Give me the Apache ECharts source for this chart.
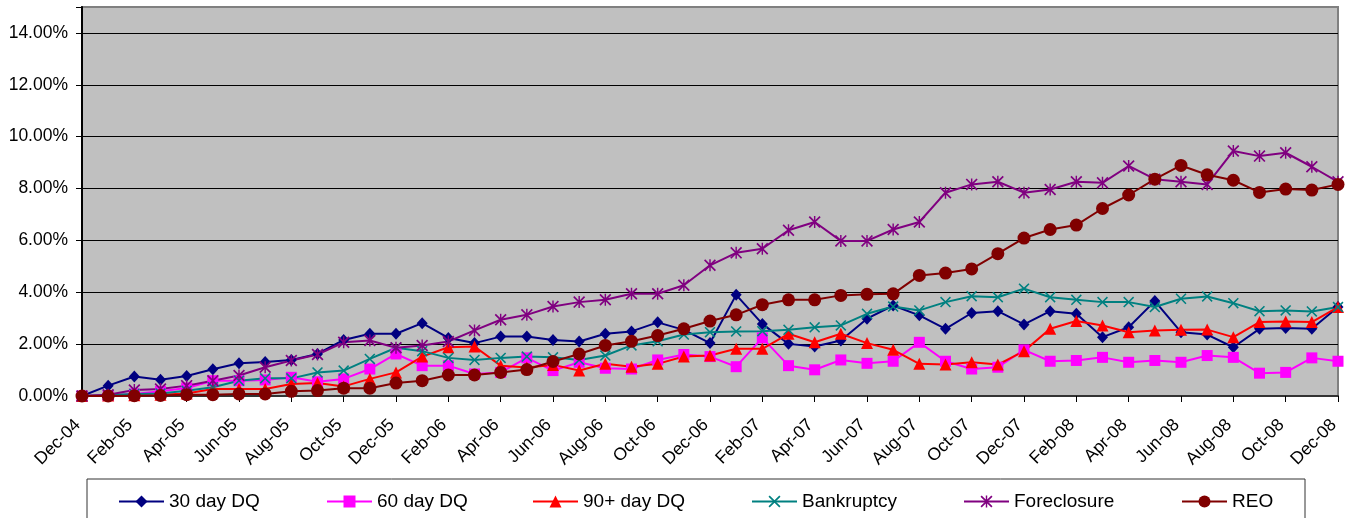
<!DOCTYPE html>
<html>
<head>
<meta charset="utf-8">
<script src="https://cdn.jsdelivr.net/npm/echarts@6/dist/echarts.min.js"></script>
<style>
  html, body { margin: 0; padding: 0; background: #fff; }
  #chart { width: 1356px; height: 518px; }
</style>
</head>
<body>
<div id="chart"></div>
<script>
var months = ['Dec-04', 'Jan-05', 'Feb-05', 'Mar-05', 'Apr-05', 'May-05', 'Jun-05', 'Jul-05', 'Aug-05', 'Sep-05', 'Oct-05', 'Nov-05',
  'Dec-05', 'Jan-06', 'Feb-06', 'Mar-06', 'Apr-06', 'May-06', 'Jun-06', 'Jul-06', 'Aug-06', 'Sep-06', 'Oct-06', 'Nov-06',
  'Dec-06', 'Jan-07', 'Feb-07', 'Mar-07', 'Apr-07', 'May-07', 'Jun-07', 'Jul-07', 'Aug-07', 'Sep-07', 'Oct-07', 'Nov-07',
  'Dec-07', 'Jan-08', 'Feb-08', 'Mar-08', 'Apr-08', 'May-08', 'Jun-08', 'Jul-08', 'Aug-08', 'Sep-08', 'Oct-08', 'Nov-08',
  'Dec-08'];

// values in percent
var dq30 = [0, 0.40, 0.75, 0.63, 0.77, 1.03, 1.26, 1.31, 1.39, 1.62, 2.16, 2.40, 2.40, 2.81, 2.24,
  2.04, 2.29, 2.29, 2.16, 2.10, 2.40, 2.49, 2.84, 2.55, 2.04, 3.90, 2.78, 2.01, 1.91, 2.14, 2.98,
  3.49, 3.11, 2.59, 3.20, 3.27, 2.76, 3.27, 3.17, 2.27, 2.65, 3.66, 2.46, 2.37, 1.88, 2.59, 2.62, 2.59, 3.43];
var dq60 = [0, 0.02, 0.08, 0.18, 0.31, 0.59, 0.59, 0.62, 0.72, 0.55, 0.66, 1.04, 1.62, 1.17, 1.17,
  0.85, 0.91, 1.47, 0.98, 1.30, 1.07, 1.04, 1.39, 1.60, 1.52, 1.13, 2.24, 1.17, 1.01, 1.39, 1.26,
  1.34, 2.07, 1.34, 1.04, 1.11, 1.78, 1.34, 1.37, 1.49, 1.30, 1.37, 1.30, 1.56, 1.49, 0.88, 0.91, 1.47, 1.34];
var dq90 = [0, 0.02, 0.03, 0.05, 0.10, 0.27, 0.27, 0.27, 0.46, 0.50, 0.37, 0.66, 0.91, 1.52, 1.88,
  1.91, 1.17, 1.10, 1.20, 0.98, 1.24, 1.13, 1.24, 1.52, 1.56, 1.82, 1.82, 2.40, 2.07, 2.40, 2.04,
  1.78, 1.24, 1.21, 1.30, 1.21, 1.73, 2.59, 2.89, 2.72, 2.46, 2.53, 2.55, 2.56, 2.27, 2.85, 2.87, 2.85, 3.43];
var bankruptcy = [0, 0.04, 0.08, 0.10, 0.20, 0.34, 0.59, 0.68, 0.68, 0.91, 0.98, 1.43, 1.86, 1.73, 1.47,
  1.39, 1.47, 1.52, 1.49, 1.39, 1.56, 1.95, 2.11, 2.37, 2.46, 2.49, 2.50, 2.55, 2.65, 2.72, 3.17,
  3.45, 3.30, 3.62, 3.85, 3.81, 4.14, 3.81, 3.71, 3.62, 3.62, 3.43, 3.75, 3.84, 3.58, 3.27, 3.30, 3.26, 3.43];
var foreclosure = [0, 0.05, 0.23, 0.27, 0.40, 0.59, 0.79, 1.11, 1.37, 1.60, 2.07, 2.14, 1.86, 1.95, 2.10,
  2.53, 2.94, 3.13, 3.45, 3.62, 3.71, 3.94, 3.94, 4.27, 5.04, 5.52, 5.68, 6.39, 6.71, 5.98, 5.98,
  6.42, 6.71, 7.84, 8.16, 8.26, 7.84, 7.96, 8.26, 8.22, 8.87, 8.36, 8.26, 8.16, 9.45, 9.25, 9.38, 8.84, 8.26];
var reo = [0, 0, 0.01, 0.02, 0.05, 0.05, 0.08, 0.08, 0.18, 0.21, 0.30, 0.30, 0.50, 0.59, 0.81,
  0.81, 0.91, 1.02, 1.33, 1.62, 1.95, 2.11, 2.33, 2.59, 2.89, 3.13, 3.52, 3.71, 3.71, 3.88, 3.92,
  3.94, 4.65, 4.74, 4.90, 5.49, 6.09, 6.42, 6.59, 7.23, 7.75, 8.36, 8.89, 8.53, 8.32, 7.85, 7.98, 7.94, 8.16];

var seriesNames = ['30 day DQ', '60 day DQ', '90+ day DQ', 'Bankruptcy', 'Foreclosure', 'REO'];
var seriesData = [dq30, dq60, dq90, bankruptcy, foreclosure, reo];
var seriesColors = ['#000080', '#FF00FF', '#FF0000', '#008080', '#800080', '#800000'];
var legendLefts = [118, 326, 532, 751, 963, 1181];

// excel style x and asterisk markers
var xMark = 'path://M0,0.1L0.1,0L0.5,0.4L0.9,0L1,0.1L0.6,0.5L1,0.9L0.9,1L0.5,0.6L0.1,1L0,0.9L0.4,0.5Z';
var starMark = xMark + 'M0.44,0L0.56,0L0.56,1L0.44,1Z';
var seriesSymbols = ['diamond', 'rect', 'triangle', xMark, starMark, 'circle'];
var symbolSizes = [[11, 12], 11, 12, 11, 12, 13];

var font = '"Liberation Sans", Arial, sans-serif';

var chart = echarts.init(document.getElementById('chart'));

var series = seriesNames.map(function (name, i) {
  return {
    name: name,
    type: 'line',
    data: seriesData[i],
    symbol: seriesSymbols[i],
    symbolSize: symbolSizes[i],
    showAllSymbol: true,
    color: seriesColors[i],
    lineStyle: { width: 2, color: seriesColors[i] },
    itemStyle: { color: seriesColors[i] },
    animation: false
  };
});

var legends = seriesNames.map(function (name, i) {
  return {
    data: [name],
    left: legendLefts[i],
    top: 492,
    padding: 0,
    itemWidth: 45,
    itemHeight: 15,
    itemGap: 0,
    textStyle: { fontFamily: font, fontSize: 19, color: '#000' }
  };
});

chart.setOption({
  backgroundColor: '#fff',
  animation: false,
  grid: {
    left: 82, right: 18, top: 7, bottom: 122,
    show: true,
    backgroundColor: '#C0C0C0',
    borderColor: '#808080',
    borderWidth: 2
  },
  graphic: [{
    type: 'rect',
    z: 0,
    shape: { x: 87, y: 479, width: 1218, height: 60 },
    style: { fill: '#fff', stroke: '#333', lineWidth: 1 }
  }],
  legend: legends,
  xAxis: {
    type: 'category',
    data: months,
    boundaryGap: false,
    axisLine: { lineStyle: { color: '#333', width: 2 } },
    axisTick: { interval: 1, length: 6, lineStyle: { color: '#000' } },
    axisLabel: {
      interval: 1,
      rotate: 45,
      margin: 22,
      padding: [0, 6, 0, 0],
      fontFamily: font,
      fontSize: 17.5,
      color: '#000'
    },
    splitLine: { show: false }
  },
  yAxis: {
    type: 'value',
    min: 0,
    max: 15,
    interval: 2,
    axisLine: { show: true, lineStyle: { color: '#000', width: 2 } },
    axisTick: { show: true, length: 6, lineStyle: { color: '#000' } },
    axisLabel: {
      margin: 14,
      fontFamily: font,
      fontSize: 17.5,
      color: '#000',
      formatter: function (v) { return v > 14 ? '' : v.toFixed(2) + '%'; }
    },
    splitLine: { show: true, showMaxLine: false, lineStyle: { color: '#000', width: 1 } }
  },
  series: series
});
</script>
</body>
</html>
